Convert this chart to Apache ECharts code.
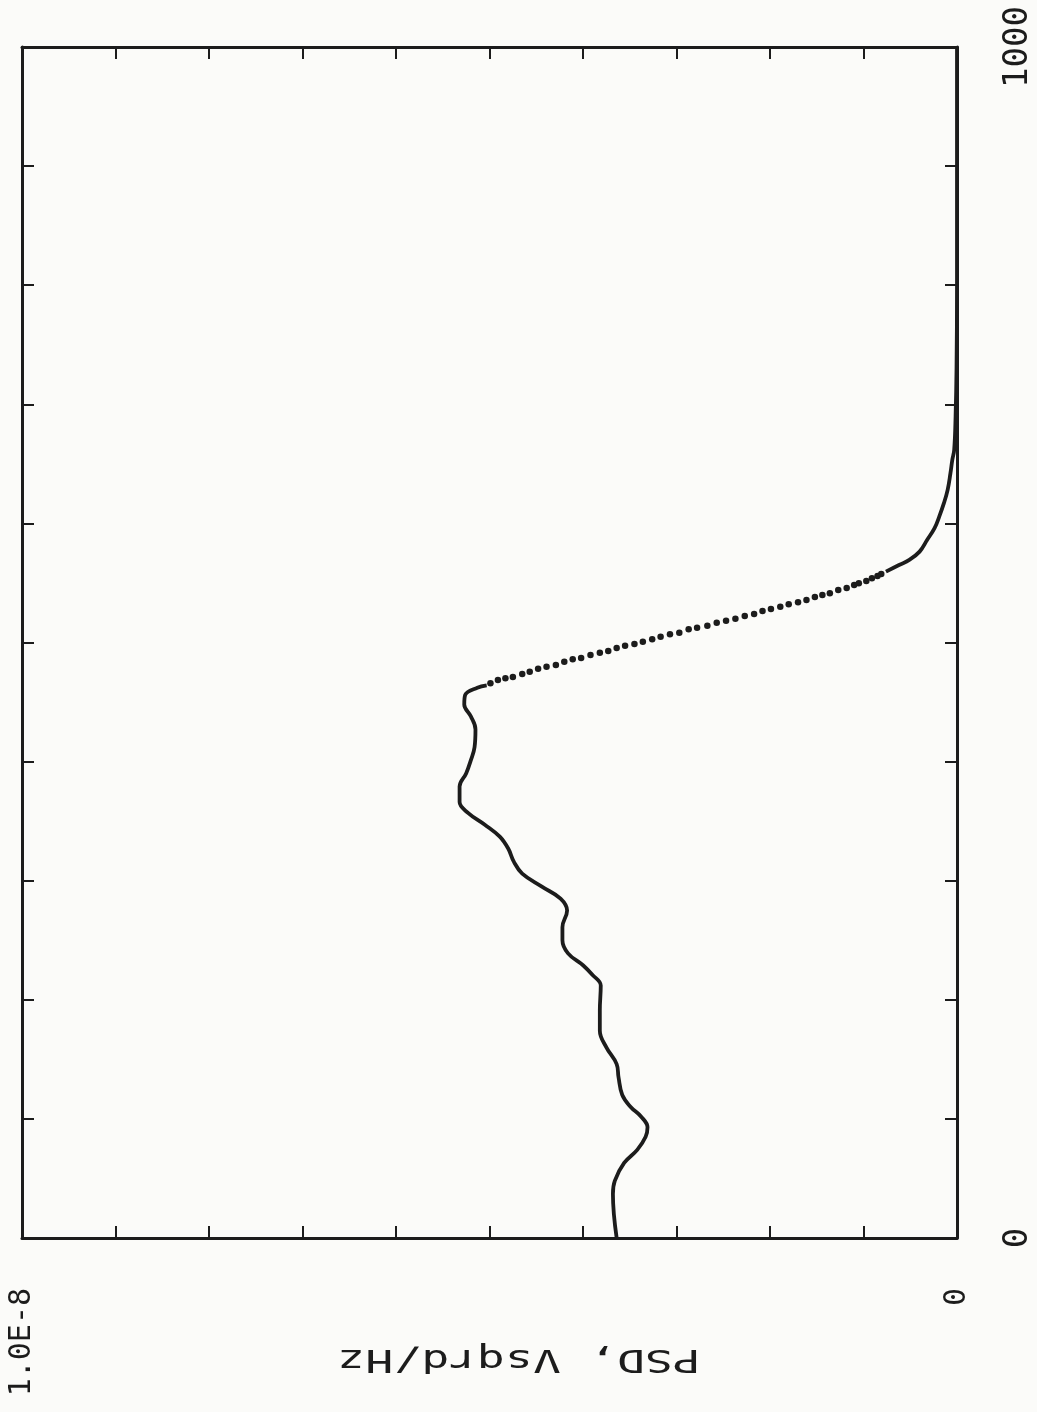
<!DOCTYPE html>
<html>
<head>
<meta charset="utf-8">
<script src="https://cdn.jsdelivr.net/npm/echarts@6/dist/echarts.min.js"></script>
<style>
html,body{margin:0;padding:0;background:#fbfbf9;}
#chart{width:1037px;height:1412px;}
</style>
</head>
<body>
<div id="chart"></div>
<script>
// Frequency (Hz) on the vertical axis, PSD (V^2/Hz) on the horizontal axis (page is rotated)
const lowFreq = [0, 37, 48, 63, 74, 85, 93, 102, 110, 120, 135, 146, 160, 174, 191, 212, 221, 229, 239, 250, 261, 275, 285, 295, 306, 316, 327, 337, 347, 357, 366, 379, 390, 401, 412, 427, 438, 448, 456, 462, 464];
const lowPsd = [3.64e-9, 3.68e-9, 3.66e-9, 3.56e-9, 3.42e-9, 3.33e-9, 3.31e-9, 3.38e-9, 3.49e-9, 3.58e-9, 3.62e-9, 3.64e-9, 3.75e-9, 3.82e-9, 3.82e-9, 3.81e-9, 3.90e-9, 4.00e-9, 4.16e-9, 4.22e-9, 4.22e-9, 4.17e-9, 4.24e-9, 4.44e-9, 4.65e-9, 4.74e-9, 4.80e-9, 4.89e-9, 5.05e-9, 5.23e-9, 5.32e-9, 5.32e-9, 5.25e-9, 5.20e-9, 5.16e-9, 5.15e-9, 5.20e-9, 5.27e-9, 5.26e-9, 5.13e-9, 5.03e-9];
const dotFreq = [465.7, 468.5, 469.9, 471.0, 473.5, 475.5, 478.0, 479.7, 481.1, 483.9, 485.9, 487.0, 489.5, 491.4, 492.9, 495.4, 497.3, 498.7, 500.7, 502.7, 504.9, 506.9, 508.2, 511.1, 512.4, 514.1, 516.6, 518.3, 520.0, 522.3, 523.9, 526.5, 528.2, 530.1, 532.1, 533.8, 535.7, 538.2, 539.9, 541.3, 544.1, 545.8, 548.3, 549.7, 551.7, 553.9, 555.9, 557.6];
const dotPsd = [4.99e-9, 4.91e-9, 4.83e-9, 4.75e-9, 4.65e-9, 4.57e-9, 4.48e-9, 4.39e-9, 4.29e-9, 4.20e-9, 4.11e-9, 4.02e-9, 3.92e-9, 3.82e-9, 3.73e-9, 3.64e-9, 3.55e-9, 3.45e-9, 3.36e-9, 3.26e-9, 3.17e-9, 3.07e-9, 2.97e-9, 2.87e-9, 2.78e-9, 2.67e-9, 2.57e-9, 2.47e-9, 2.37e-9, 2.27e-9, 2.17e-9, 2.08e-9, 1.99e-9, 1.89e-9, 1.80e-9, 1.70e-9, 1.61e-9, 1.52e-9, 1.44e-9, 1.36e-9, 1.27e-9, 1.18e-9, 1.10e-9, 1.05e-9, 0.97e-9, 0.91e-9, 0.85e-9, 0.81e-9];
const highFreq = [559.5, 565.1, 569.3, 576.3, 586.1, 596.0, 605.7, 617.0, 628.2, 642.2, 653.4, 661.8, 690, 730, 800, 1000];
const highPsd = [0.76e-9, 0.62e-9, 0.51e-9, 0.40e-9, 0.32e-9, 0.24e-9, 0.19e-9, 0.14e-9, 0.10e-9, 0.07e-9, 0.05e-9, 0.03e-9, 0.015e-9, 0.005e-9, 0, 0];

const psdTickLabels = ['0', '1.0E-8'];
const freqTickLabels = ['0', '1000'];
const axisTitle = 'PSD, Vsqrd/Hz';

const PSD_MAX = 1e-8, F_MAX = 1000;
const ink = '#1c1c1c';
const zip = (fs, ps) => fs.map((f, i) => [ps[i], f]);

const chart = echarts.init(document.getElementById('chart'), null, {renderer: 'canvas'});

const tickStyle = {show: true, inside: true, length: 12, lineStyle: {color: ink, width: 2}};
const lineAx = {show: true, onZero: false, lineStyle: {color: ink, width: 3}};

chart.setOption({
  backgroundColor: '#fbfbf9',
  animation: false,
  grid: {left: 22, right: 80, top: 47, bottom: 174, outerBoundsMode: 'none', containLabel: false},
  xAxis: [
    {
      type: 'value', min: 0, max: PSD_MAX, interval: PSD_MAX / 10, inverse: true, position: 'bottom',
      axisLine: lineAx, axisTick: tickStyle, splitLine: {show: false},
      axisLabel: {
        show: true, rotate: 90, margin: 50, color: ink,
        fontFamily: 'DejaVu Sans Mono', fontSize: 30,
        showMinLabel: true, showMaxLabel: true,
        formatter: v => (Math.abs(v) < 1e-15 ? psdTickLabels[0] : (Math.abs(v - PSD_MAX) < 1e-15 ? psdTickLabels[1] : ''))
      }
    },
    {
      type: 'value', min: 0, max: PSD_MAX, interval: PSD_MAX / 10, inverse: true, position: 'top',
      axisLine: lineAx, axisTick: tickStyle, splitLine: {show: false}, axisLabel: {show: false}
    }
  ],
  yAxis: [
    {
      type: 'value', min: 0, max: F_MAX, interval: 100, position: 'right',
      axisLine: lineAx, axisTick: tickStyle, splitLine: {show: false},
      axisLabel: {
        show: true, rotate: 90, margin: 44, color: ink,
        fontFamily: 'DejaVu Sans Mono', fontSize: 34,
        showMinLabel: true, showMaxLabel: true,
        formatter: v => (v === 0 ? freqTickLabels[0] : (v === F_MAX ? freqTickLabels[1] : ''))
      }
    },
    {
      type: 'value', min: 0, max: F_MAX, interval: 100, position: 'left',
      axisLine: lineAx, axisTick: tickStyle, splitLine: {show: false}, axisLabel: {show: false}
    }
  ],
  graphic: [
    {
      type: 'text', x: 519, y: 1358, rotation: Math.PI, scaleX: 1.45, scaleY: 1,
      style: {
        text: axisTitle, fill: ink, font: '32px "DejaVu Sans Mono"',
        textAlign: 'center', textVerticalAlign: 'middle'
      }
    }
  ],
  series: [
    {
      type: 'line', xAxisIndex: 0, yAxisIndex: 0, data: zip(lowFreq, lowPsd),
      showSymbol: false, smooth: 0.4, lineStyle: {color: ink, width: 3.8}
    },
    {
      type: 'scatter', xAxisIndex: 0, yAxisIndex: 0, data: zip(dotFreq, dotPsd),
      symbol: 'circle', symbolSize: 6.5, itemStyle: {color: ink, opacity: 1}
    },
    {
      type: 'line', xAxisIndex: 0, yAxisIndex: 0, data: zip(highFreq, highPsd),
      showSymbol: false, smooth: 0.4, lineStyle: {color: ink, width: 3.8}
    }
  ]
});
</script>
</body>
</html>
